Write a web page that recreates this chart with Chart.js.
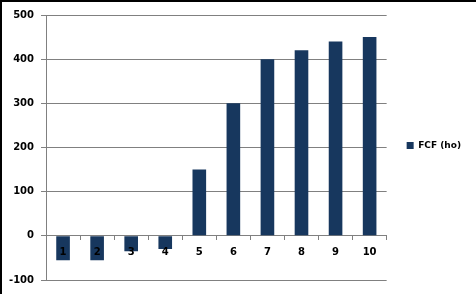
<!DOCTYPE html>
<html>
<head>
<meta charset="utf-8">
<script src="https://cdn.jsdelivr.net/npm/chart.js@4/dist/chart.umd.min.js"></script>
<style>
  html, body { margin: 0; padding: 0; background: #fff; }
  #wrap {
    position: relative;
    width: 476px;
    height: 294px;
    box-sizing: border-box;
    border-top: 2px solid #000;
    border-left: 2px solid #000;
    background: #fff;
  }
  #chart { display: block; }
</style>
</head>
<body>
<div id="wrap"><canvas id="chart" width="474" height="292"></canvas></div>
<script>
  const categories = ["1", "2", "3", "4", "5", "6", "7", "8", "9", "10"];
  const fcfValues = [-55, -55, -35, -30, 150, 300, 400, 420, 440, 450];
  const seriesName = "FCF (ho)";

  const labelFont = { family: "DejaVu Sans", size: 10, weight: "bold" };

  const ctx = document.getElementById("chart").getContext("2d");
  new Chart(ctx, {
    type: "bar",
    data: {
      labels: categories,
      datasets: [
        {
          label: seriesName,
          data: fcfValues,
          backgroundColor: "#17375e",
          borderWidth: 0,
          barPercentage: 0.8,
          categoryPercentage: 0.5,
        },
      ],
    },
    options: {
      responsive: false,
      animation: false,
      layout: { padding: { top: 9, right: 5, bottom: 14, left: 0 } },
      scales: {
        x: {
          position: { y: 0 },
          grid: {
            display: true,
            drawOnChartArea: false,
            offset: true,
            tickLength: 4,
            color: "#808080",
          },
          border: { color: "#808080", width: 1 },
          // labels sit over the negative bars, as in the original
          ticks: { color: "#000", font: labelFont, padding: 7, z: 1 },
        },
        y: {
          min: -100,
          max: 500,
          ticks: { stepSize: 100, color: "#000", font: labelFont, padding: 7 },
          grid: { color: "#808080", tickLength: 5 },
          border: { color: "#808080", width: 1 },
        },
      },
      plugins: {
        tooltip: { enabled: false },
        legend: {
          position: "right",
          labels: {
            boxWidth: 7,
            boxHeight: 7,
            padding: 20,
            color: "#000",
            font: { family: "DejaVu Sans", size: 9, weight: "bold" },
          },
        },
      },
    },
  });
</script>
</body>
</html>
